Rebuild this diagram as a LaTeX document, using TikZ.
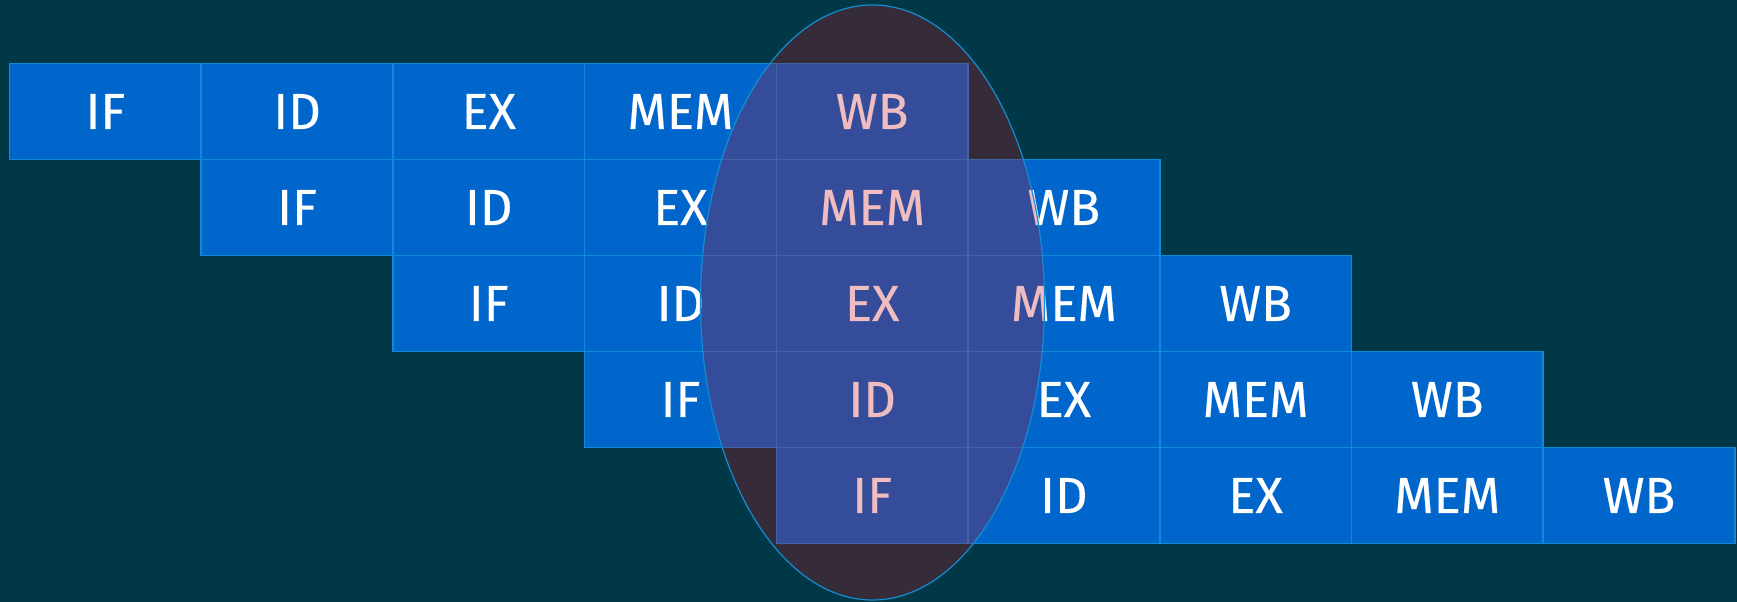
\documentclass[tikz,border=0pt]{standalone}
\usepackage{fontspec}
\setmainfont{Fira Sans}[FakeBold=0.35]
\usetikzlibrary{shapes.geometric}
\definecolor{bg}{RGB}{0,56,71}
\definecolor{cellblue}{RGB}{0,102,204}
\definecolor{cellline}{RGB}{14,138,214}
\definecolor{lens}{RGB}{198,8,22}
\definecolor{lensline}{RGB}{20,140,210}
\begin{document}
\begin{tikzpicture}[x=0.75pt,y=-0.75pt,
  stagebox/.style={draw=cellline, line width=1.2pt, fill=cellblue,
    minimum width=143.8pt, minimum height=72pt, inner sep=0pt,
    text=white, font=\fontsize{38}{38}\selectfont, anchor=north west},
  lensshape/.style={ellipse, draw=lensline, line width=0.9pt, fill=lens,
    fill opacity=0.27, draw opacity=1, minimum width=258pt, minimum height=446.25pt, inner sep=0pt}]
\fill[bg] (0,0) rectangle (1737,602);
\useasboundingbox (0,0) rectangle (1737,602);
\foreach \r in {0,...,4} {
  \foreach \s [count=\i from 0] in {IF,ID,EX,MEM,WB} {
    \pgfmathsetmacro\c{\r+\i}
    \node[stagebox] (c\r\i) at ({8.7+191.7*\c},{62.7+96*\r}) {\s};
  }
}
\node[lensshape] (lens) at (872.5,302.5) {};
\end{tikzpicture}
\end{document}
